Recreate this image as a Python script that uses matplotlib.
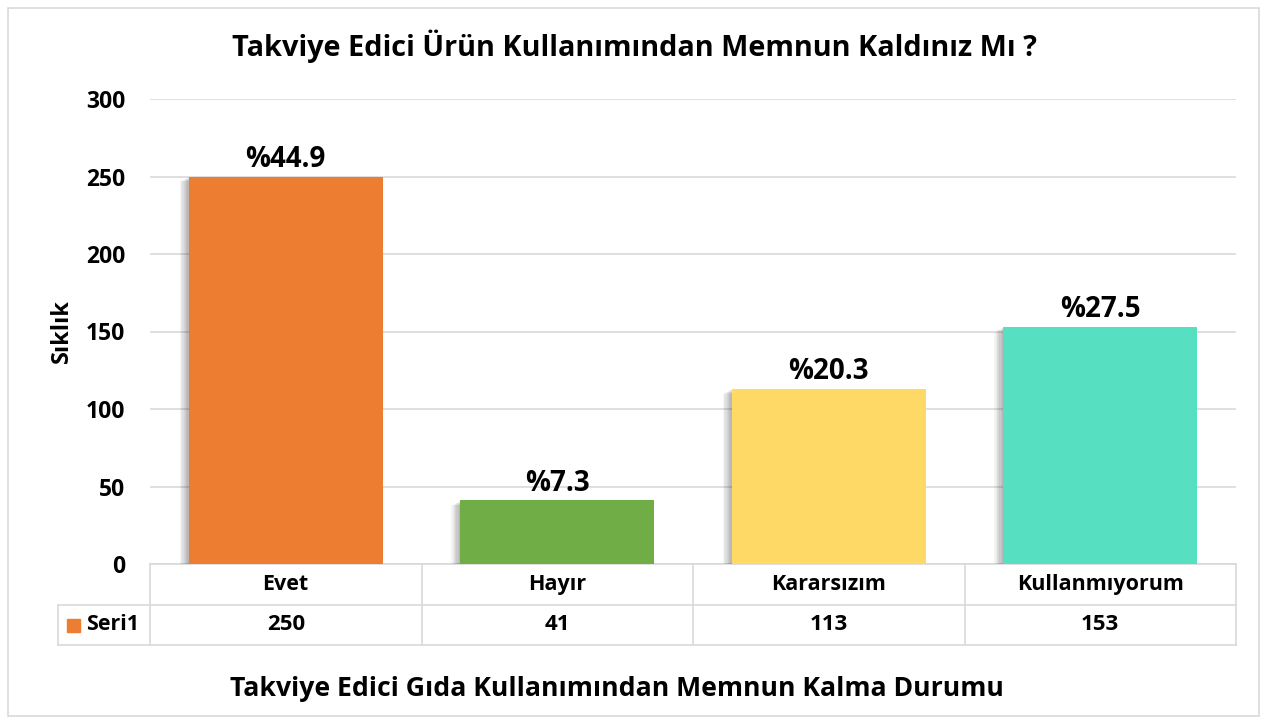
import matplotlib
matplotlib.use("Agg")
import matplotlib.pyplot as plt
import matplotlib.transforms as mtransforms
from matplotlib.patches import Rectangle
import matplotlib.patheffects as pe

categories = ["Evet", "Hayır", "Kararsızım", "Kullanmıyorum"]
values = [250, 41, 113, 153]
percent_labels = ["%44.9", "%7.3", "%20.3", "%27.5"]
series_name = "Seri1"
yticks = [0, 50, 100, 150, 200, 250, 300]
colors = ["#ED7D31", "#70AD47", "#FFD966", "#56DFC0"]
title = "Takviye Edici Ürün Kullanımından Memnun Kaldınız Mı ?"
xlabel = "Takviye Edici Gıda Kullanımından Memnun Kalma Durumu"
ylabel = "Sıklık"

plt.rcParams['font.family'] = ['Open Sans', 'DejaVu Sans']
plt.rcParams['font.weight'] = 'bold'

W, H = 1267, 724
fig = plt.figure(figsize=(W / 100, H / 100), dpi=100)

# outer border
fig.patches.append(Rectangle((8 / W, 8 / H), (W - 16) / W, (H - 16) / H,
                             transform=fig.transFigure, fill=False,
                             edgecolor="#D9D9D9", linewidth=1.2))

ax_left, ax_right = 150, 1236
ax_top, ax_bottom = 99, 564
ax = fig.add_axes([ax_left / W, (H - ax_bottom) / H,
                   (ax_right - ax_left) / W, (ax_bottom - ax_top) / H])
ax.set_xlim(-0.5, len(categories) - 0.5)
ax.set_ylim(0, 300)
for s in ax.spines.values():
    s.set_visible(False)
ax.set_yticks(yticks)
ax.set_yticklabels([str(t) for t in yticks], fontsize=16.5, fontweight='bold')
ax.tick_params(axis='y', length=0, pad=18)
ax.set_xticks([])
ax.yaxis.grid(True, color="#D9D9D9", linewidth=1.2)
ax.set_axisbelow(True)

shadow = [pe.SimplePatchShadow(offset=(-d * 0.9, -d * 0.5), shadow_rgbFace="black",
                               alpha=0.045) for d in range(1, 8)] + [pe.Normal()]
x = list(range(len(categories)))
bars = ax.bar(x, values, width=0.715, color=colors, zorder=3)
for b in bars:
    b.set_path_effects(shadow)

for xi, v, lab in zip(x, values, percent_labels):
    ax.annotate(lab, (xi, v), xytext=(0, 2), textcoords="offset points",
                ha="center", va="bottom", fontsize=20, fontweight="bold")

# data table
trans = mtransforms.blended_transform_factory(ax.transData, ax.transAxes)
ah = ax_bottom - ax_top
row1 = -41 / ah
row2 = -81 / ah
lc = "#D9D9D9"
lw = 1.2
colw = (ax_right - ax_left) / len(categories)
left_x = -0.5 - 92 / colw
xmax = len(categories) - 0.5
ax.plot([-0.5, xmax], [0, 0], color=lc, lw=lw, transform=trans, clip_on=False)
ax.plot([left_x, xmax], [row1, row1], color=lc, lw=lw, transform=trans, clip_on=False)
ax.plot([left_x, xmax], [row2, row2], color=lc, lw=lw, transform=trans, clip_on=False)
ax.plot([left_x, left_x], [row1, row2], color=lc, lw=lw, transform=trans, clip_on=False)
for i in range(len(categories) + 1):
    ax.plot([i - 0.5, i - 0.5], [0, row2], color=lc, lw=lw, transform=trans, clip_on=False)
for xi, c, v in zip(x, categories, values):
    ax.text(xi, row1 / 2, c, transform=trans, ha="center", va="center",
            fontsize=15.5, fontweight="bold")
    ax.text(xi, (row1 + row2) / 2, str(v), transform=trans, ha="center", va="center",
            fontsize=16, fontweight="bold")
# legend key
key_w = 13 / colw
ax.add_patch(Rectangle((left_x + 9 / colw, (row1 + row2) / 2 - 6.5 / ah), key_w, 13 / ah,
                       transform=trans, color=colors[0], clip_on=False))
ax.text(left_x + 28 / colw, (row1 + row2) / 2, series_name, transform=trans,
        ha="left", va="center", fontsize=15.5, fontweight="bold")

fig.text(634 / W, 1 - 46 / H, title, ha="center", va="center",
         fontsize=20.8, fontweight="bold")
fig.text(617 / W, 1 - 689 / H, xlabel, ha="center", va="center",
         fontsize=19.2, fontweight="bold")
fig.text(62 / W, 1 - 331 / H, ylabel, ha="center", va="center", rotation=90,
         fontsize=17, fontweight="bold")

fig.savefig("out.png", dpi=100)
